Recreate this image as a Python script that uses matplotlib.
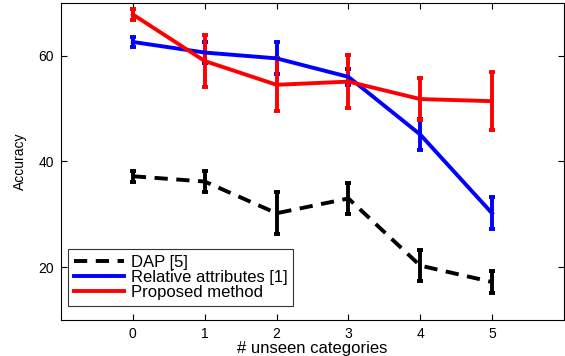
import matplotlib
matplotlib.use('Agg')
import matplotlib.pyplot as plt
from matplotlib.lines import Line2D

plt.rcParams['font.family'] = ['Liberation Sans', 'DejaVu Sans']

x = [0, 1, 2, 3, 4, 5]
dap = [37.2, 36.2, 30.2, 33.0, 20.3, 17.2]
dap_err = [1.0, 2.0, 4.0, 3.0, 3.0, 2.0]
rel = [62.6, 60.6, 59.5, 56.0, 45.1, 30.2]
rel_err = [1.0, 2.0, 3.0, 1.5, 3.0, 3.0]
prop = [67.8, 59.0, 54.5, 55.1, 51.8, 51.4]
prop_err = [1.0, 5.0, 5.0, 5.0, 4.0, 5.5]
labels = ['DAP [5]', 'Relative attributes [1]', 'Proposed method']

fig = plt.figure(figsize=(5.65, 3.56), dpi=100)
ax = fig.add_axes([0.108, 0.101, 0.890, 0.891])

lw = 2.8
kw = dict(lw=lw, elinewidth=lw, capsize=2.2, capthick=lw)
e1 = ax.errorbar(x, dap, yerr=dap_err, color='k', ls='--', **kw)
e1[0].set_dashes((3.4, 2.2))
ax.errorbar(x, rel, yerr=rel_err, color='#0000ff', **kw)
ax.errorbar(x, prop, yerr=prop_err, color='#ff0000', **kw)

ax.set_xlim(-1, 6)
ax.set_ylim(10, 70)
ax.set_xticks(x)
ax.set_yticks([20, 40, 60])
ax.tick_params(direction='in', top=True, right=True, labelsize=10, length=4, width=0.8, pad=5)
ax.set_xlabel('# unseen categories', fontsize=12, labelpad=0)
ax.set_ylabel('Accuracy', fontsize=10)
ax.yaxis.set_label_coords(-0.068, 0.5)

handles = [Line2D([], [], color='k', lw=lw, dashes=(3.4, 2.2)),
           Line2D([], [], color='#0000ff', lw=lw),
           Line2D([], [], color='#ff0000', lw=lw)]
leg = ax.legend(handles, labels, loc='lower left', fontsize=12, fancybox=False, edgecolor='k',
                handlelength=3.0, handletextpad=0.4, borderpad=0.35, labelspacing=0.02,
                bbox_to_anchor=(0.014, 0.044), borderaxespad=0)
leg.get_frame().set_linewidth(0.8)

fig.savefig('out.png', dpi=100)
